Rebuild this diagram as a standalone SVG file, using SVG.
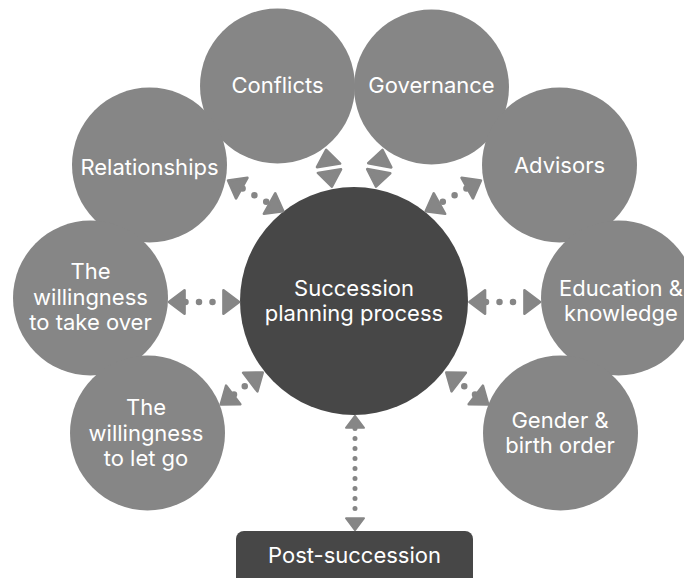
<svg xmlns="http://www.w3.org/2000/svg" width="684" height="578" viewBox="0 0 684 578">
  <defs>
    <style>
      .outer { fill: #868686; }
      .dark { fill: #474747; }
      .t { font-family: Inter, "Liberation Sans", sans-serif; font-size: 22px; fill: #ffffff; text-anchor: middle; }
      .conn { fill: none; stroke: #868686; stroke-width: 6.5; stroke-linecap: round; stroke-dasharray: 0 13.5; marker-start: url(#arr); marker-end: url(#arr); }
      .conn.nodots { stroke: none; }
      .conn.thin { stroke-width: 5; stroke-dasharray: 0 10; }
    </style>
    <marker id="arr" viewBox="-1 -3 5 6" refX="0" refY="0" markerWidth="5" markerHeight="6" markerUnits="strokeWidth" orient="auto-start-reverse">
      <polygon points="0.15,-1.8 2.55,0 0.15,1.8" fill="#868686" stroke="#868686" stroke-width="0.4" stroke-linejoin="round"/>
    </marker>
  </defs>

  <g id="node-conflicts">
    <circle class="outer" cx="277.5" cy="86" r="77.5"/>
    <text class="t" x="277.5" y="93">Conflicts</text>
  </g>
  <g id="node-governance">
    <circle class="outer" cx="431.5" cy="87" r="77.5"/>
    <text class="t" x="431.5" y="93">Governance</text>
  </g>
  <g id="node-relationships">
    <circle class="outer" cx="149.5" cy="165" r="77.5"/>
    <text class="t" x="149.5" y="175">Relationships</text>
  </g>
  <g id="node-advisors">
    <circle class="outer" cx="559.5" cy="165" r="77.5"/>
    <text class="t" x="559.5" y="173">Advisors</text>
  </g>
  <g id="node-take-over">
    <circle class="outer" cx="90.5" cy="298" r="77.5"/>
    <text class="t" x="90.5" y="279">The</text>
    <text class="t" x="90.5" y="305">willingness</text>
    <text class="t" x="90.5" y="330">to take over</text>
  </g>
  <g id="node-education">
    <circle class="outer" cx="618.5" cy="298" r="77.5"/>
    <text class="t" x="621" y="296">Education &amp;</text>
    <text class="t" x="621" y="321">knowledge</text>
  </g>
  <g id="node-let-go">
    <circle class="outer" cx="147.5" cy="433" r="77.5"/>
    <text class="t" x="146" y="415">The</text>
    <text class="t" x="146" y="441">willingness</text>
    <text class="t" x="146" y="466">to let go</text>
  </g>
  <g id="node-gender">
    <circle class="outer" cx="560.5" cy="433" r="77.5"/>
    <text class="t" x="560" y="428">Gender &amp;</text>
    <text class="t" x="560" y="453">birth order</text>
  </g>
  <g id="node-center">
    <circle class="dark" cx="354" cy="301" r="114"/>
    <text class="t" x="354" y="296">Succession</text>
    <text class="t" x="354" y="321">planning process</text>
  </g>
  <g id="node-post">
    <rect class="dark" x="236" y="531" width="237" height="60" rx="8"/>
    <text class="t" x="354.5" y="563">Post-succession</text>
  </g>

  <g id="connectors">
    <path class="conn" d="M242.6,188.6 L268.7,203.1"/>
    <path class="conn" d="M466.4,188.6 L440.3,203.1"/>
    <path class="conn" d="M185.5,302 H222.5"/>
    <path class="conn" d="M486,302 H523.5"/>
    <path class="conn" d="M234,394.4 L249.5,382.6"/>
    <path class="conn" d="M475,394.4 L459.5,382.6"/>
    <path class="conn nodots" d="M328.7,166.3 L329.3,170.2"/>
    <path class="conn nodots" d="M379.6,166.3 L378.9,170.2"/>
    <path class="conn thin" d="M355,428.5 V517.5"/>
  </g>
</svg>
